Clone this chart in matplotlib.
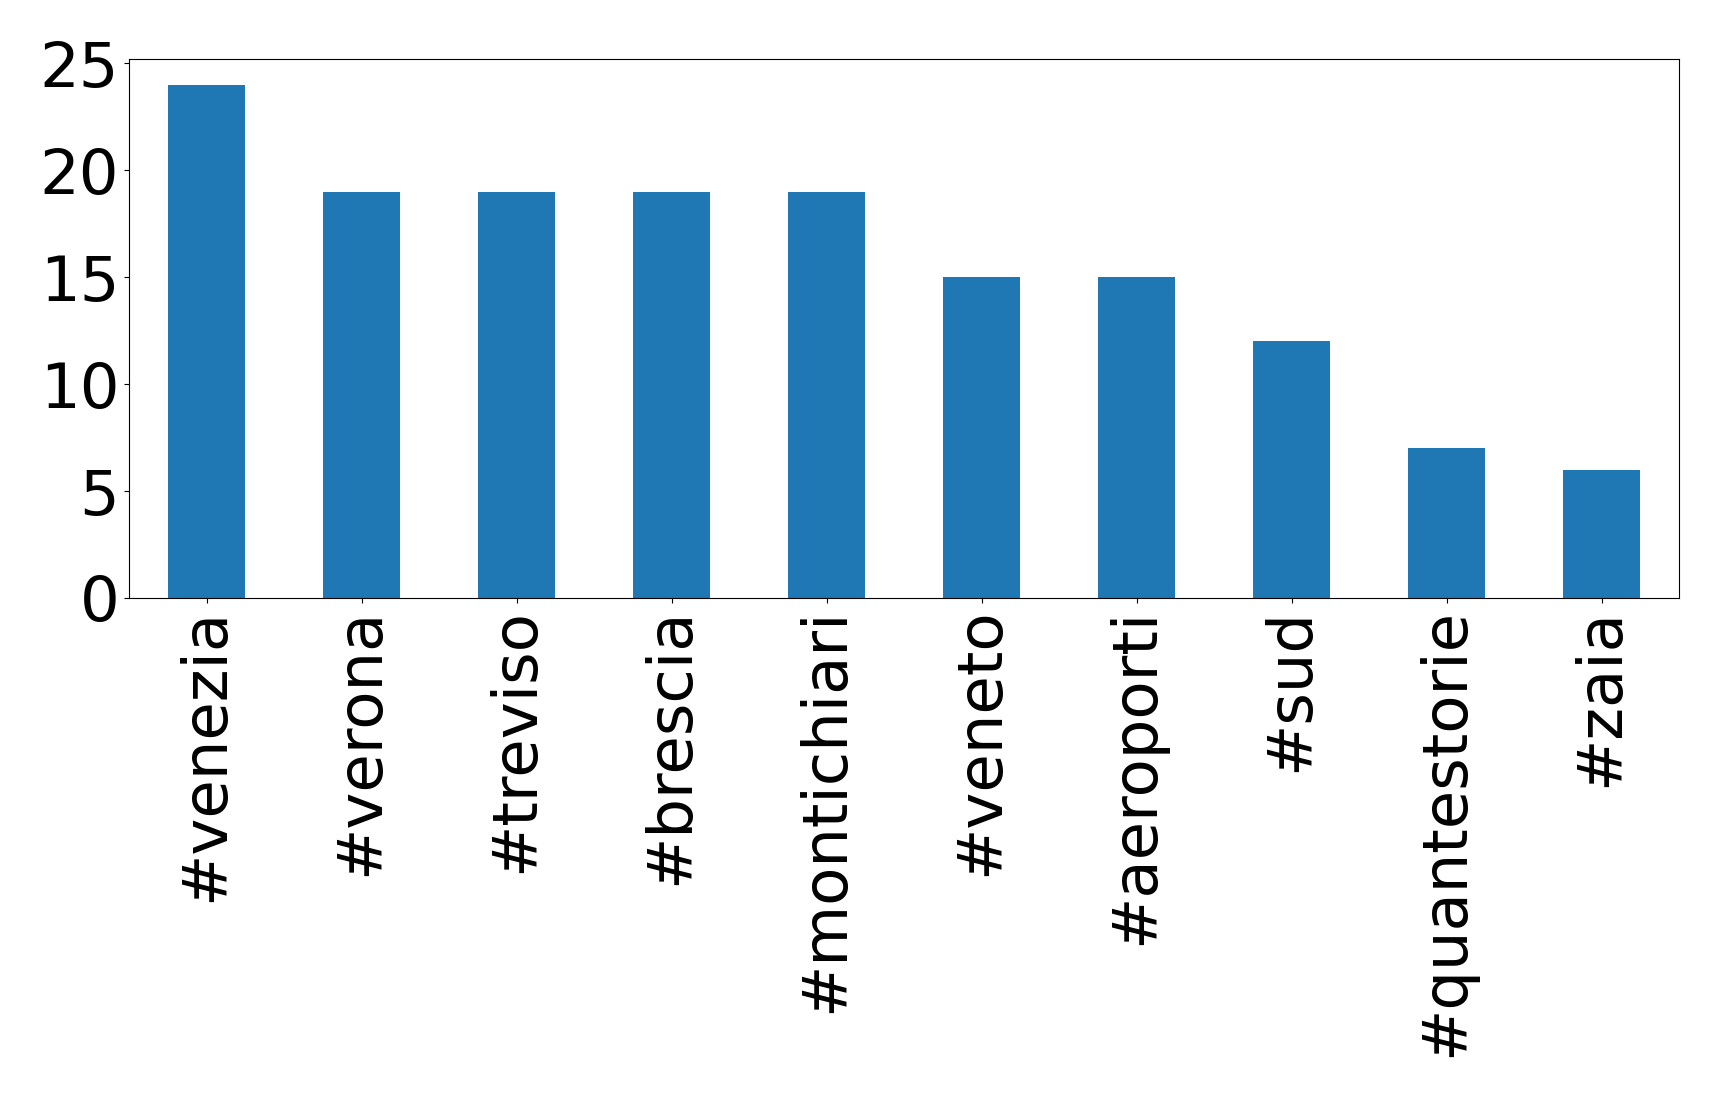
import matplotlib
matplotlib.use("Agg")
import matplotlib.pyplot as plt

categories = ["#venezia", "#verona", "#treviso", "#brescia", "#montichiari",
              "#veneto", "#aeroporti", "#sud", "#quantestorie", "#zaia"]
values = [24, 19, 19, 19, 19, 15, 15, 12, 7, 6]

fig = plt.figure(figsize=(17.19, 10.97), dpi=100)
ax = fig.add_axes([129/1719, 1 - 598/1097, (1679-129)/1719, (598-59)/1097])
x = list(range(len(categories)))
ax.bar(x, values, width=0.5, color="#1f77b4")
ax.set_xlim(-0.5, len(categories) - 0.5)
ax.set_ylim(0, max(values) * 1.05)
ax.set_xticks(x)
ax.set_xticklabels(categories, rotation=90)
ax.set_yticks([0, 5, 10, 15, 20, 25])
ax.tick_params(labelsize=45)
fig.savefig("out.png", dpi=100)
